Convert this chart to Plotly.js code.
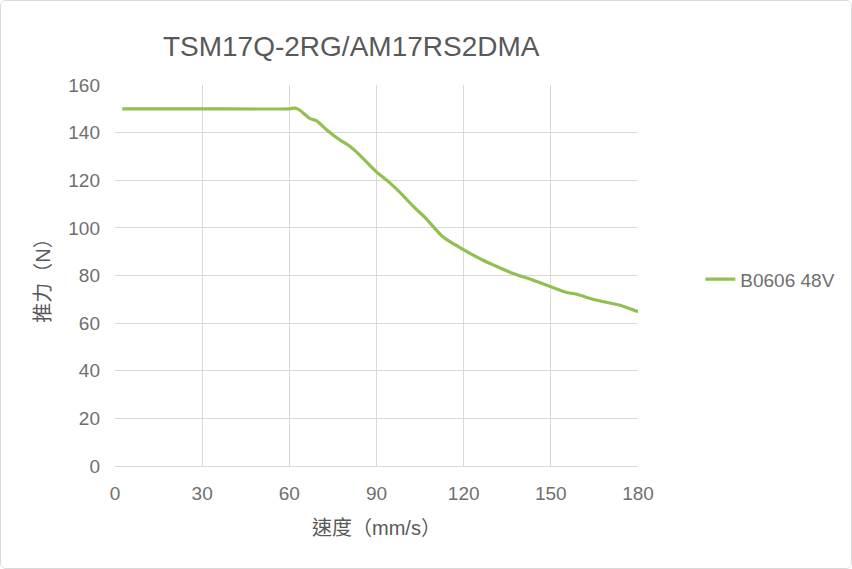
<!DOCTYPE html>
<html><head><meta charset="utf-8">
<script src="https://cdn.plot.ly/plotly-3.0.1.min.js"></script>
<style>
html,body{margin:0;padding:0;background:#fff;}
#wrap{position:absolute;left:0;top:0;width:850px;height:567px;border:1px solid #d9d9d9;border-radius:6px;overflow:hidden;}
#chart{width:850px;height:567px;}
</style></head>
<body><div id="wrap"><div id="chart"></div></div>
<script>
const speed = [2.5, 30, 60, 62, 63.5, 67, 69.3, 73, 77.3, 80.7, 83, 87.6, 90, 94.5, 99, 102.5, 107, 112.8, 120.2, 126.5, 131, 136.8, 143.7, 150, 155.2, 158.6, 165.5, 173.5, 180];
const thrust = [150, 150, 150, 150.3, 149.5, 146, 145, 141, 137, 134.4, 132, 126.4, 123.5, 119, 113.8, 109.2, 104, 96.3, 90.7, 86.5, 84, 80.9, 78.1, 75.3, 73, 72.2, 69.7, 67.6, 64.8];
const seriesName = "B0606 48V";
const titleText = "TSM17Q-2RG/AM17RS2DMA";
const xTitle = "速度（mm/s）";
const yTitle = "推力（N）";
const xTicks = [0, 30, 60, 90, 120, 150, 180];
const yTicks = [0, 20, 40, 60, 80, 100, 120, 140, 160];

const fontFam = "Liberation Sans, Arial, Noto Sans CJK SC, sans-serif";
const cjkFam = "Liberation Sans, Arial, Noto Sans CJK TC, sans-serif";
const gray = "#595959";
const tickGray = "#6f6f6f";
Plotly.newPlot("chart", [{
  x: speed, y: thrust, name: seriesName, type: "scatter", mode: "lines",
  line: {color: "#92c050", width: 3.2, shape: "spline", smoothing: 0.6},
  showlegend: true
}], {
  width: 850, height: 567,
  margin: {l: 114, r: 212, t: 84, b: 102},
  paper_bgcolor: "#fff", plot_bgcolor: "#fff",
  font: {family: fontFam, color: gray},
  title: {text: titleText, x: 0.412, xanchor: "center", y: 0.921, yanchor: "middle",
          font: {size: 28, color: gray, family: fontFam}},
  xaxis: {range: [0, 180], tickvals: xTicks, ticktext: xTicks.map(String),
          showgrid: true, gridcolor: "#d9d9d9", gridwidth: 1,
          zeroline: false, showline: true, linecolor: "#d9d9d9",
          ticks: "", ticklabelstandoff: 10, tickfont: {size: 19, color: tickGray}, fixedrange: true,
          title: {text: xTitle, font: {size: 20, color: gray, family: cjkFam}, standoff: 18}},
  yaxis: {range: [0, 160], tickvals: yTicks, ticktext: yTicks.map(String),
          showgrid: true, gridcolor: "#d9d9d9", gridwidth: 1,
          zeroline: false, showline: false, ticks: "", ticklabelstandoff: 14,
          tickfont: {size: 19, color: tickGray}, fixedrange: true,
          title: {text: yTitle, font: {size: 20, color: gray, family: cjkFam}, standoff: 12}},
  legend: {x: 1.117, xanchor: "left", y: 0.49, yanchor: "middle",
           font: {size: 19, color: tickGray}, bgcolor: "rgba(0,0,0,0)"},
  showlegend: true
}, {displayModeBar: false, staticPlot: true});
</script></body></html>
